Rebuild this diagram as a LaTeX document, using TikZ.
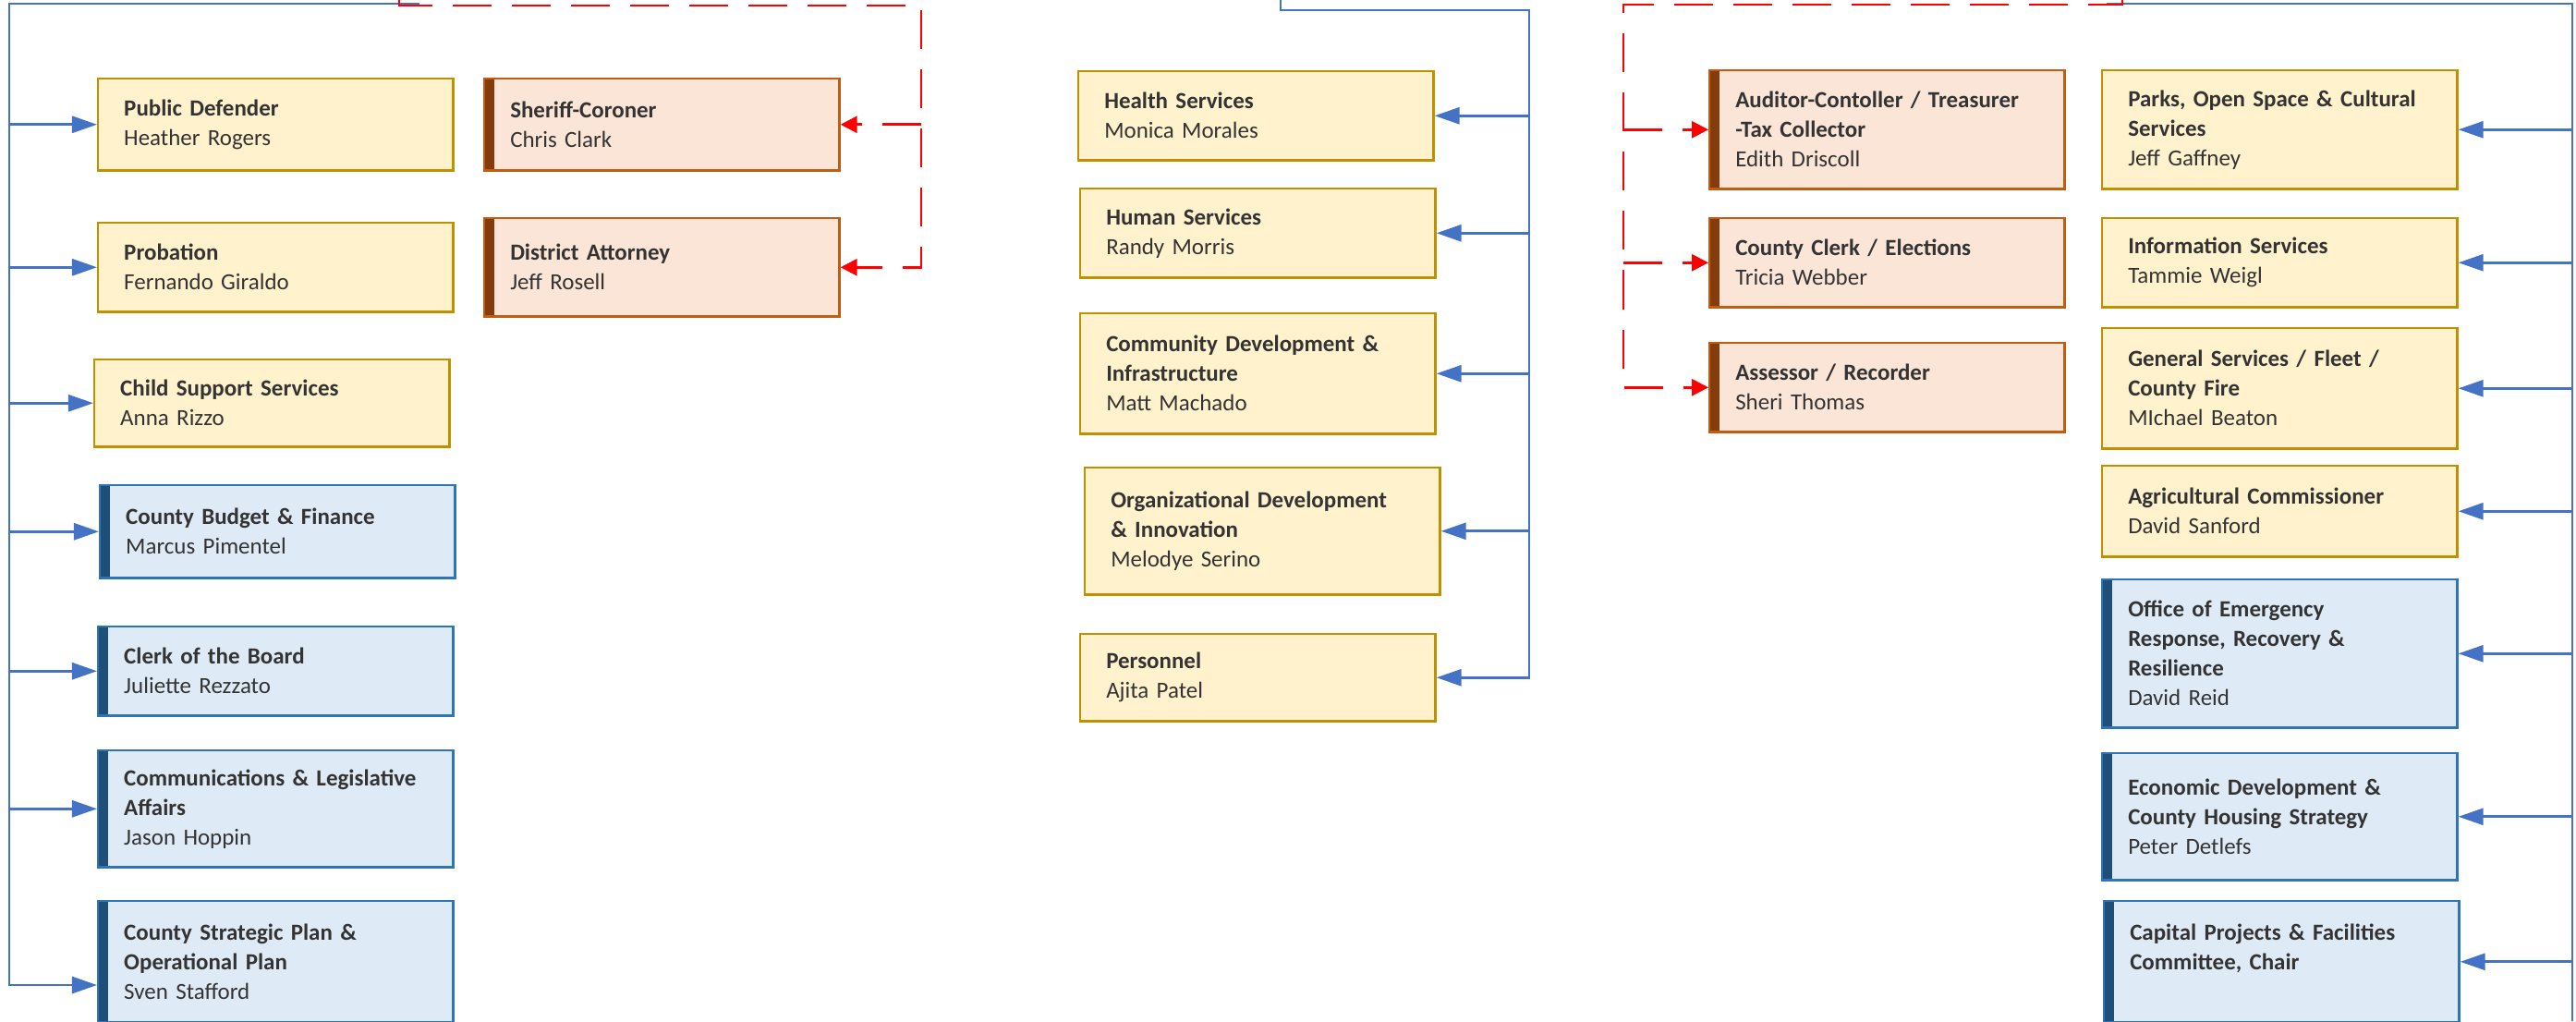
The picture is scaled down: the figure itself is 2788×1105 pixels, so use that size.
\documentclass[tikz,border=0pt]{standalone}
\usepackage{fontspec}
\setmainfont{Carlito}
\usetikzlibrary{arrows.meta,positioning}

\definecolor{yfill}{HTML}{FFF2CC}
\definecolor{yline}{HTML}{BF9000}
\definecolor{ybar}{HTML}{7F6000}
\definecolor{pfill}{HTML}{FBE5D6}
\definecolor{pline}{HTML}{C55A11}
\definecolor{pbar}{HTML}{843C0C}
\definecolor{bfill}{HTML}{DEEBF7}
\definecolor{bline}{HTML}{2E75B6}
\definecolor{bbar}{HTML}{1F4E79}
\definecolor{linkblue}{HTML}{4472C4}
\definecolor{txt}{HTML}{333333}

\begin{document}
\begin{tikzpicture}[x=0.01cm,y=-0.01cm,>={Triangle[length=0.27cm,width=0.18cm]}]
        \tikzset{dept/.style={draw, rectangle, anchor=north west, align=left, text width=3.28cm, inner xsep=0.28cm, line width=0.7pt, text=txt, font=\fontsize{7.1}{9.1}\selectfont},
        bar/.style={path picture={\fill[#1] (path picture bounding box.south west) rectangle ([xshift=0.11cm]path picture bounding box.north west);}},
        ydept/.style={dept, fill=yfill, draw=yline, bar=ybar},
        pdept/.style={dept, fill=pfill, draw=pline, bar=pbar},
        bdept/.style={dept, fill=bfill, draw=bline, bar=bbar},
        link/.style={color=linkblue, line width=0.8pt},
        dlink/.style={color=red, line width=0.8pt, dash pattern=on 0.42cm off 0.22cm, -{Triangle[length=0.18cm,width=0.18cm]}},
        }
        \useasboundingbox (0,0) rectangle (2788,1105);

        %% left column
        \node [ydept, minimum height=0.99cm] (pubdef) at (105,84) {\textbf{Public Defender}\\Heather Rogers};
        \node [ydept, minimum height=0.96cm] (probation) at (105,240) {\textbf{Probation}\\Fernando Giraldo};
        \node [ydept, minimum height=0.94cm] (childsupp) at (101,388) {\textbf{Child Support Services}\\Anna Rizzo};
        \node [bdept, minimum height=1.00cm] (budget) at (107,524) {\textbf{County Budget \& Finance}\\Marcus Pimentel};
        \node [bdept, minimum height=0.96cm] (clerkboard) at (105,677) {\textbf{Clerk of the Board}\\Juliette Rezzato};
        \node [bdept, minimum height=1.26cm] (commleg) at (105,811) {\textbf{Communications \& Legislative}\\\textbf{Affairs}\\Jason Hoppin};
        \node [bdept, minimum height=1.31cm] (stratplan) at (105,974) {\textbf{County Strategic Plan \&}\\\textbf{Operational Plan}\\Sven Stafford};

        \node [pdept, minimum height=0.99cm] (sheriff) at (523,84) {\textbf{Sheriff-Coroner}\\Chris Clark};
        \node [pdept, minimum height=1.06cm] (da) at (523,235) {\textbf{District Attorney}\\Jeff Rosell};

        %% middle column
        \node [ydept, minimum height=0.96cm] (health) at (1166,76) {\textbf{Health Services}\\Monica Morales};
        \node [ydept, minimum height=0.96cm] (humansvc) at (1168,203) {\textbf{Human Services}\\Randy Morris};
        \node [ydept, minimum height=1.30cm] (commdev) at (1168,338) {\textbf{Community Development \&}\\\textbf{Infrastructure}\\Matt Machado};
        \node [ydept, minimum height=1.37cm] (orgdev) at (1173,505) {\textbf{Organizational Development}\\\textbf{\& Innovation}\\Melodye Serino};
        \node [ydept, minimum height=0.94cm] (personnel) at (1168,685) {\textbf{Personnel}\\Ajita Patel};

        %% right columns
        \node [pdept, minimum height=1.28cm] (auditor) at (1849,75) {\textbf{Auditor-Contoller / Treasurer}\\\textbf{-Tax Collector}\\Edith Driscoll};
        \node [pdept, minimum height=0.96cm] (countyclerk) at (1849,235) {\textbf{County Clerk / Elections}\\Tricia Webber};
        \node [pdept, minimum height=0.96cm] (assessor) at (1849,370) {\textbf{Assessor / Recorder}\\Sheri Thomas};

        \node [ydept, minimum height=1.28cm] (parks) at (2274,75) {\textbf{Parks, Open Space \& Cultural}\\\textbf{Services}\\Jeff Gaffney};
        \node [ydept, minimum height=0.96cm] (infosvc) at (2274,235) {\textbf{Information Services}\\Tammie Weigl};
        \node [ydept, minimum height=1.30cm] (gensvc) at (2274,354) {\textbf{General Services / Fleet /}\\\textbf{County Fire}\\MIchael Beaton};
        \node [ydept, minimum height=0.98cm] (agcomm) at (2274,503) {\textbf{Agricultural Commissioner}\\David Sanford};
        \node [bdept, minimum height=1.60cm] (oes) at (2274,626) {\textbf{Office of Emergency}\\\textbf{Response, Recovery \&}\\\textbf{Resilience}\\David Reid};
        \node [bdept, minimum height=1.37cm] (econdev) at (2274,814) {\textbf{Economic Development \&}\\\textbf{County Housing Strategy}\\Peter Detlefs};
        \node [bdept, minimum height=1.31cm] (capital) at (2276,974) {\textbf{Capital Projects \& Facilities}\\\textbf{Committee, Chair}\\~};

        %% trunk corners
        \coordinate (blueL) at (454,4);
        \coordinate (trunkL) at (10,4);
        \coordinate (stratin) at (105,1066);
        \coordinate (redL) at (432,0);
        \coordinate (redtrunkL) at (997,6);
        \coordinate (blueM) at (1386,0);
        \coordinate (trunkM) at (1655,11);
        \coordinate (redR) at (2297,0);
        \coordinate (redtrunkR) at (1757,5);
        \coordinate (blueR) at (2280,4);
        \coordinate (trunkR) at (2784,4);
        \coordinate (trunkRend) at (2784,1105);

%% paths
        \draw[link,->] (blueL) -- (trunkL) |- (stratin);
        \path[link,->] (trunkL |- pubdef.west) edge (pubdef.west)
                    (trunkL |- probation.west) edge (probation.west)
                    (trunkL |- childsupp.west) edge (childsupp.west)
                    (trunkL |- budget.west) edge (budget.west)
                    (trunkL |- clerkboard.west) edge (clerkboard.west)
                    (trunkL |- commleg.west) edge (commleg.west)
                    ;
        \draw[link,->] (blueM) |- (trunkM) |- (personnel.east);
        \path[link,->] (trunkM |- health.east) edge (health.east)
                    (trunkM |- humansvc.east) edge (humansvc.east)
                    (trunkM |- commdev.east) edge (commdev.east)
                    (trunkM |- orgdev.east) edge (orgdev.east)
                    ;
        \draw[link] (blueR) -- (trunkR) -- (trunkRend);
        \path[link,->] (trunkR |- parks.east) edge (parks.east)
                    (trunkR |- infosvc.east) edge (infosvc.east)
                    (trunkR |- gensvc.east) edge (gensvc.east)
                    (trunkR |- agcomm.east) edge (agcomm.east)
                    (trunkR |- oes.east) edge (oes.east)
                    (trunkR |- econdev.east) edge (econdev.east)
                    (trunkR |- capital.east) edge (capital.east)
                    ;
        \draw[dlink] (redL) |- (redtrunkL) |- (da.east);
        \path[dlink] (redtrunkL |- sheriff.east) edge (sheriff.east);
        \draw[dlink] (redR) |- (redtrunkR) |- (assessor.west);
        \path[dlink] (redtrunkR |- auditor.west) edge (auditor.west)
                    (redtrunkR |- countyclerk.west) edge (countyclerk.west)
                    ;
    \end{tikzpicture}
\end{document}
